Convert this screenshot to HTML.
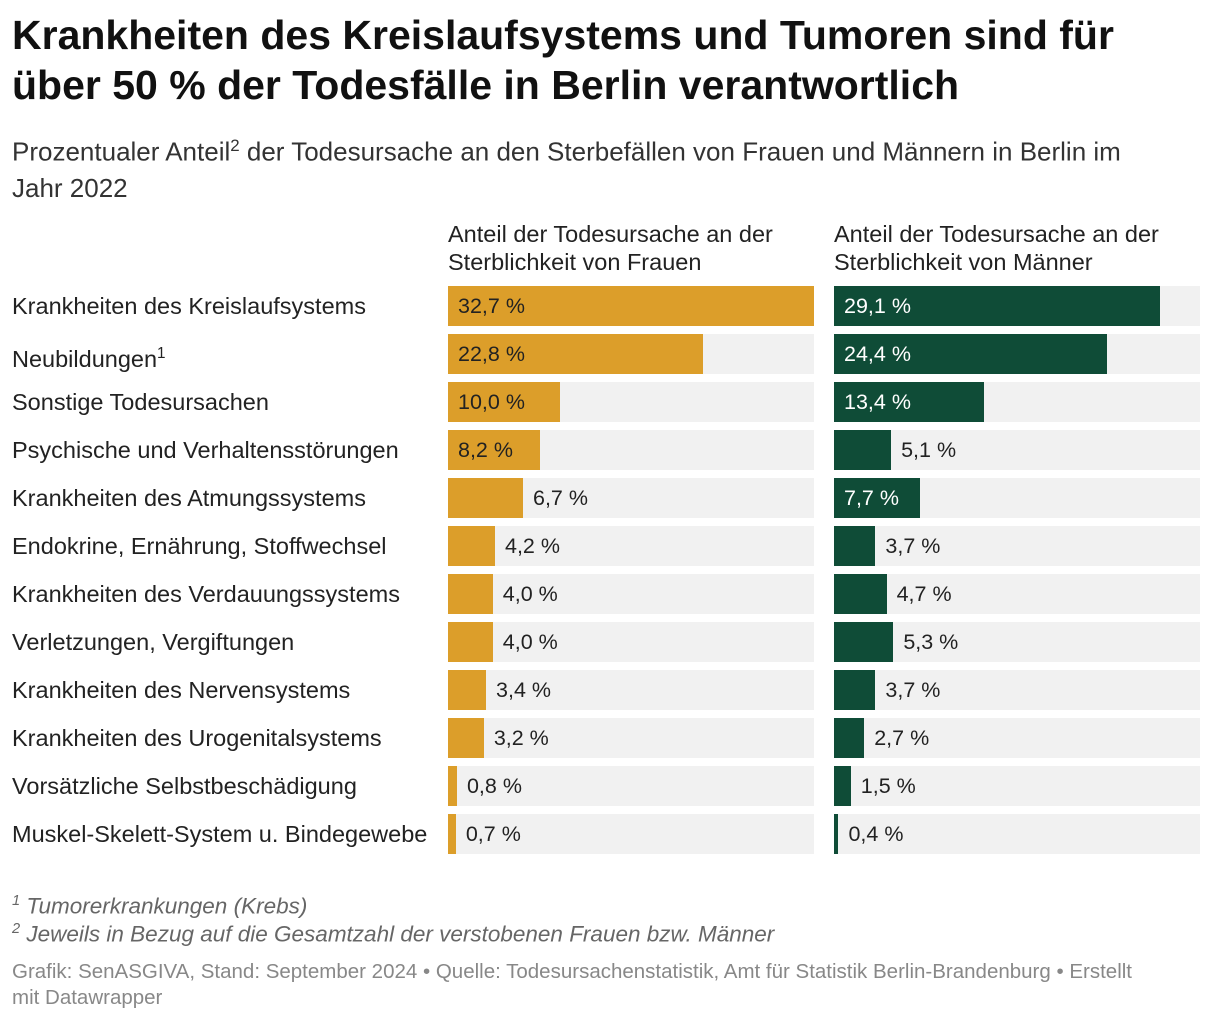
<!DOCTYPE html>
<html><head><meta charset="utf-8">
<style>
body{margin:0;background:#fff;font-family:"Liberation Sans",sans-serif;color:#222;}
#root{position:relative;width:1220px;height:1022px;overflow:hidden;}
h1{position:absolute;left:12px;top:10px;margin:0;font-size:41px;line-height:50px;font-weight:bold;color:#111;white-space:nowrap;}
.sub{position:absolute;left:12px;top:128px;font-size:26px;line-height:36px;color:#333;white-space:nowrap;}
.hdr{position:absolute;top:220px;font-size:23.5px;line-height:28px;color:#222;white-space:nowrap;}
.lab{position:absolute;left:12px;font-size:23.5px;line-height:40px;color:#222;white-space:nowrap;}
.bg{position:absolute;background:#f1f1f1;height:40px;}
.bar{position:absolute;height:40px;}
.val{position:absolute;font-size:21.5px;line-height:40px;white-space:nowrap;}
.fn{position:absolute;left:12px;font-size:22.5px;font-style:italic;color:#666;white-space:nowrap;}
.src{position:absolute;left:12px;top:959px;font-size:20.5px;line-height:26px;color:#888;white-space:nowrap;}
sup{font-size:65%;}
</style></head><body>
<div id="root">
<h1>Krankheiten des Kreislaufsystems und Tumoren sind für<br>über 50 % der Todesfälle in Berlin verantwortlich</h1>
<div class="sub">Prozentualer Anteil<sup>2</sup> der Todesursache an den Sterbefällen von Frauen und Männern in Berlin im<br>Jahr 2022</div>
<div class="hdr" style="left:448px">Anteil der Todesursache an der<br>Sterblichkeit von Frauen</div>
<div class="hdr" style="left:834px">Anteil der Todesursache an der<br>Sterblichkeit von Männer</div>
<div id="rows"></div>
<div class="fn" style="top:893px"><sup>1</sup> Tumorerkrankungen (Krebs)</div>
<div class="fn" style="top:921px"><sup>2</sup> Jeweils in Bezug auf die Gesamtzahl der verstobenen Frauen bzw. Männer</div>
<div class="src">Grafik: SenASGIVA, Stand: September 2024 • Quelle: Todesursachenstatistik, Amt für Statistik Berlin-Brandenburg • Erstellt<br>mit Datawrapper</div>
</div>
<script>
const categories=["Krankheiten des Kreislaufsystems","Neubildungen<sup>1</sup>","Sonstige Todesursachen","Psychische und Verhaltensstörungen","Krankheiten des Atmungssystems","Endokrine, Ernährung, Stoffwechsel","Krankheiten des Verdauungssystems","Verletzungen, Vergiftungen","Krankheiten des Nervensystems","Krankheiten des Urogenitalsystems","Vorsätzliche Selbstbeschädigung","Muskel-Skelett-System u. Bindegewebe"];
const women=[32.7,22.8,10.0,8.2,6.7,4.2,4.0,4.0,3.4,3.2,0.8,0.7];
const men=[29.1,24.4,13.4,5.1,7.7,3.7,4.7,5.3,3.7,2.7,1.5,0.4];
const maxVal=32.7, W=366, top0=286, step=48;
const x=v=>v/maxVal*W;
const rows=document.getElementById('rows');
function add(cls,style,html,name){
  const d=document.createElement('div');d.className=cls;d.style.cssText=style;if(html!=null)d.innerHTML=html;
  
  
  rows.appendChild(d);return d;
}
const fmt=v=>v.toFixed(1).replace('.',',')+' %';
categories.forEach((c,i)=>{
  const y=top0+i*step;
  add('lab','top:'+y+'px',c,'row-label');
  [[women,448,'#dc9e2a','#222','women'],[men,834,'#0f4c37','#fff','men']].forEach(([arr,x0,col,inCol,s])=>{
    add('bg','left:'+x0+'px;top:'+y+'px;width:'+W+'px','', 'bar-background-'+s);
    const w=x(arr[i]);
    add('bar','left:'+x0+'px;top:'+y+'px;width:'+w+'px;background:'+col,'', 'bar-'+s);
    const inside=w>80;
    add('val','top:'+y+'px;left:'+(inside?x0+10:x0+w+10)+'px;color:'+(inside?inCol:'#222'),fmt(arr[i]),'value-label-'+s);
  });
});
</script>
</body></html>
